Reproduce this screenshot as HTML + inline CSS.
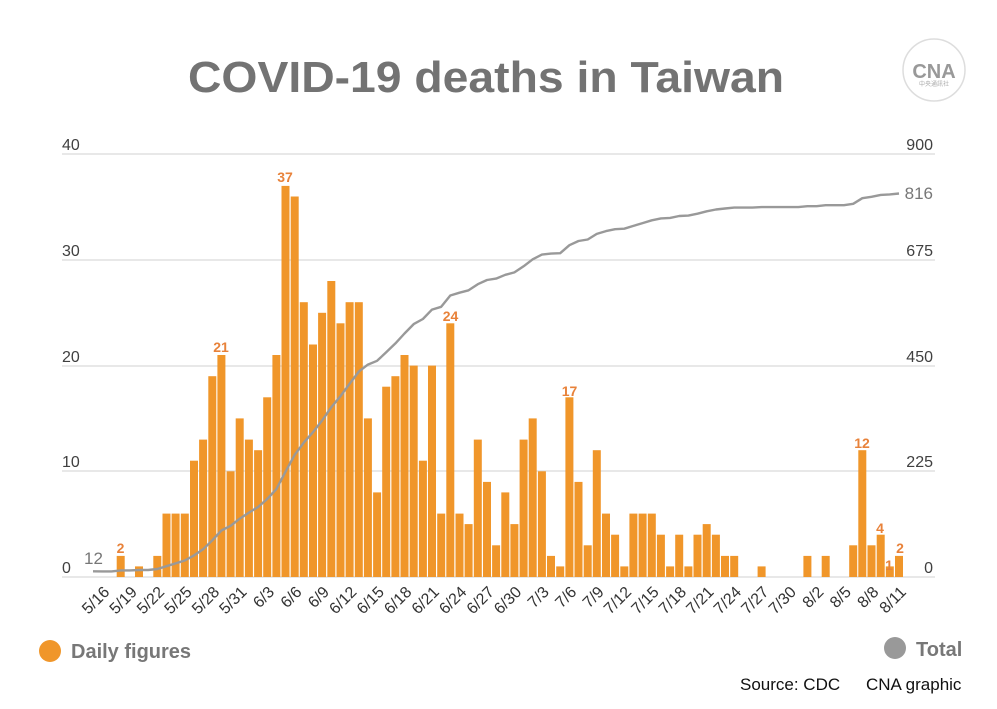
<!DOCTYPE html>
<html><head><meta charset="utf-8"><style>
html,body{margin:0;padding:0;background:#fff;}
svg{display:block;}
text{font-family:"Liberation Sans",sans-serif;}
</style></head><body>
<svg id="c" width="997" height="709" viewBox="0 0 997 709" xmlns="http://www.w3.org/2000/svg">
<rect width="997" height="709" fill="#fff"/>
<text x="486" y="92" text-anchor="middle" font-size="44" font-weight="bold" fill="#737373" textLength="596" lengthAdjust="spacingAndGlyphs">COVID-19 deaths in Taiwan</text>
<circle cx="934" cy="70" r="31" fill="#fff" stroke="#ddd" stroke-width="1.5"/>
<text x="934" y="78" text-anchor="middle" font-size="20" font-weight="bold" fill="#999">CNA</text>
<text x="934" y="86" text-anchor="middle" font-size="6" fill="#aaa" font-family="Noto Sans CJK TC, sans-serif">中央通訊社</text>
<g stroke="#d9d9d9" stroke-width="1.3">
<line x1="62" x2="935" y1="154" y2="154"/><line x1="62" x2="935" y1="260" y2="260"/>
<line x1="62" x2="935" y1="366" y2="366"/><line x1="62" x2="935" y1="471" y2="471"/>
<line x1="62" x2="935" y1="577" y2="577"/>
</g>
<g font-size="16" fill="#404040">
<text x="62" y="150">40</text><text x="62" y="256">30</text><text x="62" y="362">20</text><text x="62" y="467">10</text><text x="62" y="573">0</text>
<text x="933" y="150" text-anchor="end">900</text><text x="933" y="256" text-anchor="end">675</text><text x="933" y="362" text-anchor="end">450</text><text x="933" y="467" text-anchor="end">225</text><text x="933" y="573" text-anchor="end">0</text>
</g>
<g id="bars" fill="#f0962a"></g>
<polyline id="line" fill="none" stroke="#999" stroke-width="2.4" stroke-linejoin="round"/>
<g id="xl" font-size="16" fill="#333"></g>
<g font-size="14" font-weight="bold" fill="#e8823a" text-anchor="middle">
<text x="120.5" y="553">2</text>
<text x="221" y="352">21</text>
<text x="285" y="182">37</text>
<text x="450.5" y="321">24</text>
<text x="569.5" y="396">17</text>
<text x="862" y="448">12</text>
<text x="880" y="533">4</text>
<text x="889" y="570">1</text>
<text x="900" y="553">2</text>
</g>
<text x="84" y="564" font-size="17" fill="#777">12</text>
<text x="933" y="199" font-size="17" fill="#777" text-anchor="end">816</text>
<circle cx="50" cy="651" r="11" fill="#f0962a"/>
<text x="71" y="658" font-size="20" font-weight="bold" fill="#777">Daily figures</text>
<circle cx="895" cy="648" r="11" fill="#999"/>
<text x="916" y="656" font-size="20" font-weight="bold" fill="#777">Total</text>
<text x="740" y="690" font-size="17" fill="#111">Source: CDC</text>
<text x="866" y="690" font-size="17" fill="#111">CNA graphic</text>
</svg>
<script>
var d=[0,0,2,0,1,0,2,6,6,6,11,13,19,21,10,15,13,12,17,21,37,36,26,22,25,28,24,26,26,15,8,18,19,21,20,11,20,6,24,6,5,13,9,3,8,5,13,15,10,2,1,17,9,3,12,6,4,1,6,6,6,4,1,4,1,4,5,4,2,2,0,0,1,0,0,0,0,2,0,2,0,0,3,12,3,4,1,2];
var ns="http://www.w3.org/2000/svg",b=document.getElementById("bars"),xl=document.getElementById("xl");
var cum=12,pts=["93,"+(577-12*0.47)];
function lab(i){var day=16+i,m=5;if(day>31){day-=31;m=6;if(day>30){day-=30;m=7;if(day>31){day-=31;m=8;}}}return m+"/"+day;}
for(var i=0;i<d.length;i++){
 var x=98.4+9.156*i,cx=x+4;
 if(d[i]>0){var r=document.createElementNS(ns,"rect");var h=d[i]*10.57;r.setAttribute("x",x.toFixed(1));r.setAttribute("y",(577-h).toFixed(1));r.setAttribute("width","8");r.setAttribute("height",h.toFixed(1));b.appendChild(r);}
 cum+=d[i];pts.push(cx.toFixed(1)+","+(577-cum*0.47).toFixed(1));
 if(i%3==0){var t=document.createElementNS(ns,"text");t.setAttribute("text-anchor","end");t.setAttribute("transform","translate("+(cx+8).toFixed(1)+",593) rotate(-45)");t.textContent=lab(i);xl.appendChild(t);}
}
document.getElementById("line").setAttribute("points",pts.join(" "));
</script>
</body></html>
